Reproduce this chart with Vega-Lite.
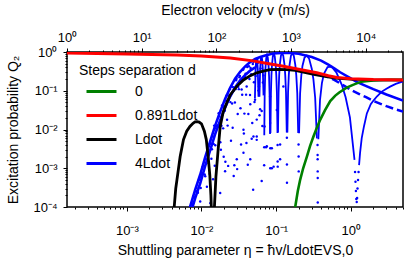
{
"$schema":"https://vega.github.io/schema/vega-lite/v6.json",
"width":336,"height":155,"autosize":"none",
"padding":{"left":67,"top":52,"right":12,"bottom":53},
"config":{"font":"Liberation Sans","view":{"stroke":"black","strokeWidth":1.5},
"axis":{"grid":false,"domain":false,"tickColor":"black","labelColor":"black","titleColor":"black","labelFontSize":13,"titleFontSize":14,"titleFontWeight":"normal","labelFlush":false,"labelOverlap":false,"tickWidth":1,
"tickSize":{"condition":{"test":"abs(log(datum.value)/LN10 - round(log(datum.value)/LN10)) < 0.001","value":4},"value":2},
"labelExpr":"abs(log(datum.value)/LN10 - round(log(datum.value)/LN10)) < 0.001 ? '10' + replace(replace(replace(replace(replace(replace(toString(round(log(datum.value)/LN10)), '-', '⁻'), '0', '⁰'), '1', '¹'), '2', '²'), '3', '³'), '4', '⁴') : ''"}},
"datasets":{
"vel":[{"v":1},{"v":31600}],
"dots":[
{"eta":0.00741,"Q":1.26e-4},{"eta":0.00794,"Q":1.78e-4},{"eta":0.00851,"Q":3.2e-4},{"eta":0.00881,"Q":2.6e-4},{"eta":0.00944,"Q":5.1e-4},{"eta":0.00977,"Q":3.1e-4},{"eta":0.01012,"Q":6.9e-4},{"eta":0.01084,"Q":1.45e-3},{"eta":0.01122,"Q":6.2e-4},{"eta":0.01161,"Q":1.35e-3},{"eta":0.01245,"Q":3.8e-3},{"eta":0.01288,"Q":7.1e-4},{"eta":0.01334,"Q":4.3e-3},{"eta":0.0138,"Q":3.1e-3},{"eta":0.01429,"Q":5.2e-4},{"eta":0.01479,"Q":0.0126},{"eta":0.01531,"Q":3.9e-3},{"eta":0.01585,"Q":0.0123},{"eta":0.01698,"Q":0.0263},{"eta":0.01758,"Q":0.0115},{"eta":0.0182,"Q":3.0e-3},{"eta":0.01884,"Q":0.0417},{"eta":0.0195,"Q":0.0107},{"eta":0.02018,"Q":0.038},{"eta":0.02089,"Q":1.48e-3},{"eta":0.02163,"Q":0.0741},{"eta":0.02239,"Q":0.0126},{"eta":0.02317,"Q":0.0575},{"eta":0.02399,"Q":0.11},{"eta":0.02483,"Q":5.1e-3},{"eta":0.0257,"Q":0.0468},{"eta":0.02661,"Q":0.123},{"eta":0.02754,"Q":1.19e-3},{"eta":0.02851,"Q":0.11},{"eta":0.02951,"Q":0.204},{"eta":0.03055,"Q":0.0251},{"eta":0.03162,"Q":0.11},{"eta":0.03273,"Q":0.24},{"eta":0.03388,"Q":4.1e-3},{"eta":0.03508,"Q":0.0787},{"eta":0.03631,"Q":0.355},{"eta":0.03758,"Q":0.0257},{"eta":0.0389,"Q":0.275},{"eta":0.04027,"Q":0.129},{"eta":0.04169,"Q":1.23e-3},{"eta":0.04315,"Q":0.427},{"eta":0.04467,"Q":0.0776},{"eta":0.04624,"Q":0.266},{"eta":0.04786,"Q":0.0148},{"eta":0.04955,"Q":0.562},{"eta":0.05129,"Q":0.0513},{"eta":0.05309,"Q":0.24},{"eta":0.05495,"Q":5.4e-3},{"eta":0.05689,"Q":0.525},{"eta":0.05888,"Q":0.129},{"eta":0.06095,"Q":0.0335},{"eta":0.0631,"Q":0.661},{"eta":0.06531,"Q":0.0123},{"eta":0.06761,"Q":0.249},
{"eta":0.00754,"Q":1.12e-4},{"eta":0.0078,"Q":1.9e-4},{"eta":0.00837,"Q":2.54e-4},{"eta":0.00896,"Q":2.32e-4},{"eta":0.00928,"Q":5.1e-4},{"eta":0.00961,"Q":1.38e-4},{"eta":0.00994,"Q":5.75e-4},{"eta":0.0103,"Q":1.07e-3},{"eta":0.01103,"Q":6.9e-4},{"eta":0.01142,"Q":1.72e-3},{"eta":0.01182,"Q":3.35e-4},{"eta":0.01224,"Q":1.84e-3},{"eta":0.01266,"Q":3.76e-3},{"eta":0.01311,"Q":1.26e-4},{"eta":0.01357,"Q":1.76e-3},{"eta":0.01405,"Q":6.68e-3},{"eta":0.01454,"Q":4.2e-3},{"eta":0.01505,"Q":1.16e-3},{"eta":0.01558,"Q":0.0107},{"eta":0.01669,"Q":0.0129},{"eta":0.01727,"Q":0.0219},{"eta":0.01788,"Q":4.7e-3},{"eta":0.01851,"Q":0.01245},{"eta":0.01916,"Q":0.0403},{"eta":0.01983,"Q":1.97e-3},{"eta":0.02053,"Q":0.0305},{"eta":0.02125,"Q":0.0556},{"eta":0.022,"Q":0.0178},{"eta":0.02277,"Q":1.15e-3},{"eta":0.02358,"Q":0.0767},{"eta":0.0244,"Q":0.0509},{"eta":0.02526,"Q":0.129},{"eta":0.02615,"Q":0.0111},{"eta":0.02707,"Q":0.1018},{"eta":0.02802,"Q":0.0498},{"eta":0.02901,"Q":0.186},{"eta":0.03003,"Q":9.5e-4},{"eta":0.03108,"Q":0.126},{"eta":0.03217,"Q":0.224},{"eta":0.0333,"Q":0.0353},{"eta":0.03447,"Q":0.1073},{"eta":0.03568,"Q":0.349},{"eta":0.03694,"Q":7.85e-3},{"eta":0.03823,"Q":0.2265},{"eta":0.03958,"Q":0.0794},{"eta":0.04097,"Q":0.412},{"eta":0.04241,"Q":0.0251},{"eta":0.0439,"Q":0.2018},{"eta":0.04544,"Q":0.387},{"eta":0.04704,"Q":5.79e-3},{"eta":0.04869,"Q":0.49},{"eta":0.0504,"Q":0.166},{"eta":0.05217,"Q":0.0585},{"eta":0.054,"Q":0.4266},{"eta":0.05589,"Q":0.632},{"eta":0.05786,"Q":0.1008},{"eta":0.05989,"Q":0.0232},{"eta":0.062,"Q":0.376},{"eta":0.06417,"Q":0.582},{"eta":0.06643,"Q":0.163},
{"eta":0.0925,"Q":1.1e-3},{"eta":0.075,"Q":3.7e-3},{"eta":0.113,"Q":4.1e-3},{"eta":0.113,"Q":1.7e-3},{"eta":0.027,"Q":6.3e-4},{"eta":0.0207,"Q":8.4e-4},{"eta":0.0178,"Q":2.3e-4},{"eta":0.0297,"Q":1.7e-3},{"eta":0.0365,"Q":2.5e-3},{"eta":0.0497,"Q":6.6e-3},{"eta":0.0365,"Q":9.9e-3},{"eta":0.055,"Q":0.018},{"eta":0.083,"Q":0.0147},{"eta":0.102,"Q":0.032},{"eta":0.083,"Q":0.071},{"eta":0.125,"Q":0.128},{"eta":0.064,"Q":0.03},{"eta":0.07,"Q":0.012},{"eta":0.045,"Q":0.045},{"eta":0.04,"Q":4.5e-3},
{"eta":0.3585,"Q":0.004},{"eta":0.359,"Q":0.0022},{"eta":0.3595,"Q":0.0017},{"eta":0.36,"Q":8.3e-4},{"eta":0.3605,"Q":5.6e-4},{"eta":0.361,"Q":1.3e-4},{"eta":0.1995,"Q":0.0041},{"eta":0.2,"Q":0.002},{"eta":0.2005,"Q":8.3e-4},{"eta":0.1392,"Q":0.0061},{"eta":0.1394,"Q":0.00125},{"eta":0.1396,"Q":4.2e-4},{"eta":0.1045,"Q":0.004},{"eta":0.1047,"Q":0.0015},{"eta":0.1049,"Q":0.0011},{"eta":0.0835,"Q":0.0033},{"eta":0.0833,"Q":0.001},{"eta":0.0692,"Q":0.0035},{"eta":0.0691,"Q":0.0012},{"eta":0.0492,"Q":2.8e-4},{"eta":0.064,"Q":4.7e-4},{"eta":0.055,"Q":6.6e-3},{"eta":0.0733,"Q":3.5e-3},{"eta":0.0876,"Q":3.3e-3},{"eta":0.045,"Q":1.7e-3},{"eta":0.0876,"Q":1e-3},
{"eta":1.14,"Q":8e-4},{"eta":1.155,"Q":4.5e-4},{"eta":1.17,"Q":2.6e-4},{"eta":1.185,"Q":1.6e-4},{"eta":1.2,"Q":1.35e-4},{"eta":1.215,"Q":1.7e-4},{"eta":1.23,"Q":3e-4},{"eta":1.25,"Q":5e-4},{"eta":1.27,"Q":8e-4}
],
"curves":[
{"eta":0.17,"Q":3e-5,"d":"0","seg":"g","kind":"main"},{"eta":0.18,"Q":1e-4,"d":"0","seg":"g","kind":"main"},{"eta":0.195,"Q":2.6e-4,"d":"0","seg":"g","kind":"main"},{"eta":0.21,"Q":5.1e-4,"d":"0","seg":"g","kind":"main"},{"eta":0.23,"Q":1e-3,"d":"0","seg":"g","kind":"main"},{"eta":0.258,"Q":0.002,"d":"0","seg":"g","kind":"main"},{"eta":0.285,"Q":0.0038,"d":"0","seg":"g","kind":"main"},{"eta":0.316,"Q":0.0066,"d":"0","seg":"g","kind":"main"},{"eta":0.35,"Q":0.011,"d":"0","seg":"g","kind":"main"},{"eta":0.39,"Q":0.018,"d":"0","seg":"g","kind":"main"},{"eta":0.45,"Q":0.031,"d":"0","seg":"g","kind":"main"},{"eta":0.53,"Q":0.054,"d":"0","seg":"g","kind":"main"},{"eta":0.62,"Q":0.075,"d":"0","seg":"g","kind":"main"},{"eta":0.7,"Q":0.09,"d":"0","seg":"g","kind":"main"},{"eta":0.88,"Q":0.12,"d":"0","seg":"g","kind":"main"},{"eta":1.05,"Q":0.14,"d":"0","seg":"g","kind":"main"},{"eta":1.2,"Q":0.155,"d":"0","seg":"g","kind":"main"},{"eta":1.47,"Q":0.175,"d":"0","seg":"g","kind":"main"},{"eta":2.0,"Q":0.185,"d":"0","seg":"g","kind":"main"},{"eta":2.73,"Q":0.19,"d":"0","seg":"g","kind":"main"},{"eta":3.5,"Q":0.192,"d":"0","seg":"g","kind":"main"},{"eta":5.0,"Q":0.193,"d":"0","seg":"g","kind":"main"},
{"eta":0.000158,"Q":0.94,"d":"0.891Ldot","seg":"r","kind":"main"},{"eta":0.001,"Q":0.89,"d":"0.891Ldot","seg":"r","kind":"main"},{"eta":0.0047,"Q":0.84,"d":"0.891Ldot","seg":"r","kind":"main"},{"eta":0.01,"Q":0.79,"d":"0.891Ldot","seg":"r","kind":"main"},{"eta":0.0243,"Q":0.7,"d":"0.891Ldot","seg":"r","kind":"main"},{"eta":0.049,"Q":0.59,"d":"0.891Ldot","seg":"r","kind":"main"},{"eta":0.08,"Q":0.5,"d":"0.891Ldot","seg":"r","kind":"main"},{"eta":0.125,"Q":0.43,"d":"0.891Ldot","seg":"r","kind":"main"},{"eta":0.2,"Q":0.36,"d":"0.891Ldot","seg":"r","kind":"main"},{"eta":0.35,"Q":0.29,"d":"0.891Ldot","seg":"r","kind":"main"},{"eta":0.5,"Q":0.245,"d":"0.891Ldot","seg":"r","kind":"main"},{"eta":0.65,"Q":0.22,"d":"0.891Ldot","seg":"r","kind":"main"},{"eta":1.0,"Q":0.205,"d":"0.891Ldot","seg":"r","kind":"main"},{"eta":2.0,"Q":0.195,"d":"0.891Ldot","seg":"r","kind":"main"},{"eta":5.0,"Q":0.19,"d":"0.891Ldot","seg":"r","kind":"main"},
{"eta":0.00422,"Q":3e-5,"d":"Ldot","seg":"k1","kind":"main"},{"eta":0.00431,"Q":1e-4,"d":"Ldot","seg":"k1","kind":"main"},{"eta":0.00452,"Q":3e-4,"d":"Ldot","seg":"k1","kind":"main"},{"eta":0.00469,"Q":5e-4,"d":"Ldot","seg":"k1","kind":"main"},{"eta":0.00518,"Q":2e-3,"d":"Ldot","seg":"k1","kind":"main"},{"eta":0.00574,"Q":5.5e-3,"d":"Ldot","seg":"k1","kind":"main"},{"eta":0.00634,"Q":9e-3,"d":"Ldot","seg":"k1","kind":"main"},{"eta":0.007,"Q":0.012,"d":"Ldot","seg":"k1","kind":"main"},{"eta":0.0077,"Q":0.0145,"d":"Ldot","seg":"k1","kind":"main"},{"eta":0.0082,"Q":0.0157,"d":"Ldot","seg":"k1","kind":"main"},{"eta":0.00873,"Q":0.016,"d":"Ldot","seg":"k1","kind":"main"},{"eta":0.0093,"Q":0.0155,"d":"Ldot","seg":"k1","kind":"main"},{"eta":0.01,"Q":0.014,"d":"Ldot","seg":"k1","kind":"main"},{"eta":0.01093,"Q":0.009,"d":"Ldot","seg":"k1","kind":"main"},{"eta":0.0116,"Q":0.0055,"d":"Ldot","seg":"k1","kind":"main"},{"eta":0.01228,"Q":0.002,"d":"Ldot","seg":"k1","kind":"main"},{"eta":0.0129,"Q":7e-4,"d":"Ldot","seg":"k1","kind":"main"},{"eta":0.01337,"Q":2e-4,"d":"Ldot","seg":"k1","kind":"main"},{"eta":0.0137,"Q":5e-5,"d":"Ldot","seg":"k1","kind":"main"},
{"eta":0.0145,"Q":3e-5,"d":"Ldot","seg":"k2","kind":"main"},{"eta":0.0149,"Q":1e-4,"d":"Ldot","seg":"k2","kind":"main"},{"eta":0.0156,"Q":6e-4,"d":"Ldot","seg":"k2","kind":"main"},{"eta":0.0167,"Q":0.003,"d":"Ldot","seg":"k2","kind":"main"},{"eta":0.0178,"Q":0.012,"d":"Ldot","seg":"k2","kind":"main"},{"eta":0.0195,"Q":0.028,"d":"Ldot","seg":"k2","kind":"main"},{"eta":0.0219,"Q":0.05,"d":"Ldot","seg":"k2","kind":"main"},{"eta":0.0245,"Q":0.08,"d":"Ldot","seg":"k2","kind":"main"},{"eta":0.0297,"Q":0.13,"d":"Ldot","seg":"k2","kind":"main"},{"eta":0.0365,"Q":0.19,"d":"Ldot","seg":"k2","kind":"main"},{"eta":0.045,"Q":0.245,"d":"Ldot","seg":"k2","kind":"main"},{"eta":0.055,"Q":0.29,"d":"Ldot","seg":"k2","kind":"main"},{"eta":0.067,"Q":0.32,"d":"Ldot","seg":"k2","kind":"main"},{"eta":0.083,"Q":0.35,"d":"Ldot","seg":"k2","kind":"main"},{"eta":0.106,"Q":0.358,"d":"Ldot","seg":"k2","kind":"main"},{"eta":0.139,"Q":0.35,"d":"Ldot","seg":"k2","kind":"main"},{"eta":0.18,"Q":0.335,"d":"Ldot","seg":"k2","kind":"main"},{"eta":0.258,"Q":0.29,"d":"Ldot","seg":"k2","kind":"main"},{"eta":0.333,"Q":0.26,"d":"Ldot","seg":"k2","kind":"main"},{"eta":0.45,"Q":0.235,"d":"Ldot","seg":"k2","kind":"main"},{"eta":0.62,"Q":0.213,"d":"Ldot","seg":"k2","kind":"main"},{"eta":1.0,"Q":0.2,"d":"Ldot","seg":"k2","kind":"main"},{"eta":2.0,"Q":0.19,"d":"Ldot","seg":"k2","kind":"main"},{"eta":5.0,"Q":0.188,"d":"Ldot","seg":"k2","kind":"main"},
{"eta":0.0065,"Q":3e-5,"d":"4Ldot","seg":"env","kind":"main"},{"eta":0.00706,"Q":1.04e-4,"d":"4Ldot","seg":"env","kind":"main"},{"eta":0.00824,"Q":2.8e-4,"d":"4Ldot","seg":"env","kind":"main"},{"eta":0.00962,"Q":6.9e-4,"d":"4Ldot","seg":"env","kind":"main"},{"eta":0.01119,"Q":1.9e-3,"d":"4Ldot","seg":"env","kind":"main"},{"eta":0.01306,"Q":4.9e-3,"d":"4Ldot","seg":"env","kind":"main"},{"eta":0.01524,"Q":0.0126,"d":"4Ldot","seg":"env","kind":"main"},{"eta":0.01778,"Q":0.0288,"d":"4Ldot","seg":"env","kind":"main"},{"eta":0.02075,"Q":0.0617,"d":"4Ldot","seg":"env","kind":"main"},{"eta":0.02421,"Q":0.119,"d":"4Ldot","seg":"env","kind":"main"},{"eta":0.02818,"Q":0.204,"d":"4Ldot","seg":"env","kind":"main"},{"eta":0.03296,"Q":0.309,"d":"4Ldot","seg":"env","kind":"main"},{"eta":0.03846,"Q":0.427,"d":"4Ldot","seg":"env","kind":"main"},{"eta":0.04487,"Q":0.55,"d":"4Ldot","seg":"env","kind":"main"},{"eta":0.05236,"Q":0.661,"d":"4Ldot","seg":"env","kind":"main"},{"eta":0.0611,"Q":0.741,"d":"4Ldot","seg":"env","kind":"main"},{"eta":0.0713,"Q":0.813,"d":"4Ldot","seg":"env","kind":"main"},{"eta":0.0912,"Q":0.912,"d":"4Ldot","seg":"env","kind":"main"},{"eta":0.12,"Q":0.94,"d":"4Ldot","seg":"env","kind":"main"},{"eta":0.154,"Q":0.945,"d":"4Ldot","seg":"env","kind":"main"},{"eta":0.2,"Q":0.9,"d":"4Ldot","seg":"env","kind":"main"},{"eta":0.3,"Q":0.74,"d":"4Ldot","seg":"env","kind":"main"},{"eta":0.4,"Q":0.6,"d":"4Ldot","seg":"env","kind":"main"},{"eta":0.5,"Q":0.47,"d":"4Ldot","seg":"env","kind":"main"},{"eta":0.6,"Q":0.38,"d":"4Ldot","seg":"env","kind":"main"},{"eta":0.72,"Q":0.3,"d":"4Ldot","seg":"env","kind":"main"},{"eta":1.0,"Q":0.21,"d":"4Ldot","seg":"env","kind":"main"},{"eta":1.2,"Q":0.17,"d":"4Ldot","seg":"env","kind":"main"},{"eta":1.5,"Q":0.14,"d":"4Ldot","seg":"env","kind":"main"},{"eta":2.0,"Q":0.11,"d":"4Ldot","seg":"env","kind":"main"},{"eta":3.0,"Q":0.08,"d":"4Ldot","seg":"env","kind":"main"},{"eta":5.0,"Q":0.056,"d":"4Ldot","seg":"env","kind":"main"},
{"eta":0.00706,"Q":6.2e-5,"d":"4Ldot","seg":"band","kind":"main"},{"eta":0.00824,"Q":1.7e-4,"d":"4Ldot","seg":"band","kind":"main"},{"eta":0.00962,"Q":4.1e-4,"d":"4Ldot","seg":"band","kind":"main"},{"eta":0.01119,"Q":1.14e-3,"d":"4Ldot","seg":"band","kind":"main"},{"eta":0.01306,"Q":2.9e-3,"d":"4Ldot","seg":"band","kind":"main"},{"eta":0.01524,"Q":7.6e-3,"d":"4Ldot","seg":"band","kind":"main"},{"eta":0.01778,"Q":0.0173,"d":"4Ldot","seg":"band","kind":"main"},{"eta":0.02075,"Q":0.037,"d":"4Ldot","seg":"band","kind":"main"},{"eta":0.02421,"Q":0.071,"d":"4Ldot","seg":"band","kind":"main"},{"eta":0.02818,"Q":0.122,"d":"4Ldot","seg":"band","kind":"main"},{"eta":0.03296,"Q":0.185,"d":"4Ldot","seg":"band","kind":"main"},{"eta":0.03846,"Q":0.256,"d":"4Ldot","seg":"band","kind":"main"},{"eta":0.04487,"Q":0.33,"d":"4Ldot","seg":"band","kind":"main"},{"eta":0.05236,"Q":0.4,"d":"4Ldot","seg":"band","kind":"main"},
{"eta":0.4,"Q":0.27,"d":"4Ldot","seg":"dash","kind":"dash"},{"eta":0.5,"Q":0.225,"d":"4Ldot","seg":"dash","kind":"dash"},{"eta":0.6,"Q":0.19,"d":"4Ldot","seg":"dash","kind":"dash"},{"eta":0.7,"Q":0.16,"d":"4Ldot","seg":"dash","kind":"dash"},{"eta":0.85,"Q":0.128,"d":"4Ldot","seg":"dash","kind":"dash"},{"eta":1.0,"Q":0.105,"d":"4Ldot","seg":"dash","kind":"dash"},{"eta":1.3,"Q":0.082,"d":"4Ldot","seg":"dash","kind":"dash"},{"eta":1.6,"Q":0.068,"d":"4Ldot","seg":"dash","kind":"dash"},{"eta":2.0,"Q":0.055,"d":"4Ldot","seg":"dash","kind":"dash"},{"eta":2.5,"Q":0.046,"d":"4Ldot","seg":"dash","kind":"dash"},{"eta":3.0,"Q":0.04,"d":"4Ldot","seg":"dash","kind":"dash"},{"eta":4.0,"Q":0.033,"d":"4Ldot","seg":"dash","kind":"dash"},{"eta":5.0,"Q":0.029,"d":"4Ldot","seg":"dash","kind":"dash"},
{"eta":0.3674,"Q":0.0056,"d":"4Ldot","seg":"A","kind":"arch"},{"eta":0.3869,"Q":0.0583,"d":"4Ldot","seg":"A","kind":"arch"},{"eta":0.41,"Q":0.158,"d":"4Ldot","seg":"A","kind":"arch"},{"eta":0.4361,"Q":0.275,"d":"4Ldot","seg":"A","kind":"arch"},{"eta":0.4878,"Q":0.41,"d":"4Ldot","seg":"A","kind":"arch"},{"eta":0.5536,"Q":0.42,"d":"4Ldot","seg":"A","kind":"arch"},{"eta":0.6398,"Q":0.299,"d":"4Ldot","seg":"A","kind":"arch"},{"eta":0.7576,"Q":0.1425,"d":"4Ldot","seg":"A","kind":"arch"},{"eta":0.8518,"Q":0.068,"d":"4Ldot","seg":"A","kind":"arch"},{"eta":0.9728,"Q":0.0205,"d":"4Ldot","seg":"A","kind":"arch"},{"eta":1.121,"Q":0.00165,"d":"4Ldot","seg":"A","kind":"arch"},
{"eta":0.2027,"Q":0.008,"d":"4Ldot","seg":"B","kind":"arch"},{"eta":0.2093,"Q":0.085,"d":"4Ldot","seg":"B","kind":"arch"},{"eta":0.2169,"Q":0.24,"d":"4Ldot","seg":"B","kind":"arch"},{"eta":0.225,"Q":0.435,"d":"4Ldot","seg":"B","kind":"arch"},{"eta":0.24,"Q":0.717,"d":"4Ldot","seg":"B","kind":"arch"},{"eta":0.2571,"Q":0.81,"d":"4Ldot","seg":"B","kind":"arch"},{"eta":0.2768,"Q":0.666,"d":"4Ldot","seg":"B","kind":"arch"},{"eta":0.2999,"Q":0.37,"d":"4Ldot","seg":"B","kind":"arch"},{"eta":0.3156,"Q":0.197,"d":"4Ldot","seg":"B","kind":"arch"},{"eta":0.3331,"Q":0.066,"d":"4Ldot","seg":"B","kind":"arch"},{"eta":0.3513,"Q":0.0059,"d":"4Ldot","seg":"B","kind":"arch"},
{"eta":0.1413,"Q":0.0084,"d":"4Ldot","seg":"C","kind":"arch"},{"eta":0.1444,"Q":0.0902,"d":"4Ldot","seg":"C","kind":"arch"},{"eta":0.1478,"Q":0.258,"d":"4Ldot","seg":"C","kind":"arch"},{"eta":0.1514,"Q":0.4725,"d":"4Ldot","seg":"C","kind":"arch"},{"eta":0.1578,"Q":0.803,"d":"4Ldot","seg":"C","kind":"arch"},{"eta":0.1647,"Q":0.935,"d":"4Ldot","seg":"C","kind":"arch"},{"eta":0.1723,"Q":0.794,"d":"4Ldot","seg":"C","kind":"arch"},{"eta":0.1807,"Q":0.46,"d":"4Ldot","seg":"C","kind":"arch"},{"eta":0.1861,"Q":0.25,"d":"4Ldot","seg":"C","kind":"arch"},{"eta":0.1918,"Q":0.0869,"d":"4Ldot","seg":"C","kind":"arch"},{"eta":0.1975,"Q":0.0081,"d":"4Ldot","seg":"C","kind":"arch"},
{"eta":0.1058,"Q":0.0084,"d":"4Ldot","seg":"D","kind":"arch"},{"eta":0.1077,"Q":0.0898,"d":"4Ldot","seg":"D","kind":"arch"},{"eta":0.1098,"Q":0.257,"d":"4Ldot","seg":"D","kind":"arch"},{"eta":0.112,"Q":0.47,"d":"4Ldot","seg":"D","kind":"arch"},{"eta":0.1159,"Q":0.803,"d":"4Ldot","seg":"D","kind":"arch"},{"eta":0.12,"Q":0.94,"d":"4Ldot","seg":"D","kind":"arch"},{"eta":0.1245,"Q":0.803,"d":"4Ldot","seg":"D","kind":"arch"},{"eta":0.1293,"Q":0.47,"d":"4Ldot","seg":"D","kind":"arch"},{"eta":0.1323,"Q":0.257,"d":"4Ldot","seg":"D","kind":"arch"},{"eta":0.1355,"Q":0.0898,"d":"4Ldot","seg":"D","kind":"arch"},{"eta":0.1387,"Q":0.0084,"d":"4Ldot","seg":"D","kind":"arch"},
{"eta":0.08385,"Q":0.0081,"d":"4Ldot","seg":"E","kind":"arch"},{"eta":0.08509,"Q":0.0869,"d":"4Ldot","seg":"E","kind":"arch"},{"eta":0.08646,"Q":0.248,"d":"4Ldot","seg":"E","kind":"arch"},{"eta":0.08787,"Q":0.455,"d":"4Ldot","seg":"E","kind":"arch"},{"eta":0.09033,"Q":0.777,"d":"4Ldot","seg":"E","kind":"arch"},{"eta":0.09294,"Q":0.91,"d":"4Ldot","seg":"E","kind":"arch"},{"eta":0.09569,"Q":0.777,"d":"4Ldot","seg":"E","kind":"arch"},{"eta":0.09862,"Q":0.455,"d":"4Ldot","seg":"E","kind":"arch"},{"eta":0.10046,"Q":0.248,"d":"4Ldot","seg":"E","kind":"arch"},{"eta":0.10238,"Q":0.0869,"d":"4Ldot","seg":"E","kind":"arch"},{"eta":0.10423,"Q":0.0081,"d":"4Ldot","seg":"E","kind":"arch"},
{"eta":0.06932,"Q":0.0071,"d":"4Ldot","seg":"F","kind":"arch"},{"eta":0.07018,"Q":0.077,"d":"4Ldot","seg":"F","kind":"arch"},{"eta":0.07111,"Q":0.222,"d":"4Ldot","seg":"F","kind":"arch"},{"eta":0.07207,"Q":0.408,"d":"4Ldot","seg":"F","kind":"arch"},{"eta":0.07373,"Q":0.705,"d":"4Ldot","seg":"F","kind":"arch"},{"eta":0.07547,"Q":0.83,"d":"4Ldot","seg":"F","kind":"arch"},{"eta":0.07729,"Q":0.715,"d":"4Ldot","seg":"F","kind":"arch"},{"eta":0.07921,"Q":0.42,"d":"4Ldot","seg":"F","kind":"arch"},{"eta":0.0804,"Q":0.23,"d":"4Ldot","seg":"F","kind":"arch"},{"eta":0.08163,"Q":0.082,"d":"4Ldot","seg":"F","kind":"arch"},{"eta":0.08282,"Q":0.0077,"d":"4Ldot","seg":"F","kind":"arch"},
{"eta":0.0597,"Q":0.0702,"d":"4Ldot","seg":"G","kind":"arch"},{"eta":0.06107,"Q":0.371,"d":"4Ldot","seg":"G","kind":"arch"},{"eta":0.06226,"Q":0.64,"d":"4Ldot","seg":"G","kind":"arch"},{"eta":0.06349,"Q":0.76,"d":"4Ldot","seg":"G","kind":"arch"},{"eta":0.06478,"Q":0.658,"d":"4Ldot","seg":"G","kind":"arch"},{"eta":0.06612,"Q":0.39,"d":"4Ldot","seg":"G","kind":"arch"},{"eta":0.0678,"Q":0.0759,"d":"4Ldot","seg":"G","kind":"arch"},
{"eta":0.05195,"Q":0.063,"d":"4Ldot","seg":"H","kind":"arch"},{"eta":0.05298,"Q":0.3375,"d":"4Ldot","seg":"H","kind":"arch"},{"eta":0.05387,"Q":0.59,"d":"4Ldot","seg":"H","kind":"arch"},{"eta":0.05479,"Q":0.7,"d":"4Ldot","seg":"H","kind":"arch"},{"eta":0.05575,"Q":0.606,"d":"4Ldot","seg":"H","kind":"arch"},{"eta":0.05674,"Q":0.36,"d":"4Ldot","seg":"H","kind":"arch"},{"eta":0.05797,"Q":0.0697,"d":"4Ldot","seg":"H","kind":"arch"},
{"eta":1.29,"Q":0.0012,"d":"4Ldot","seg":"R","kind":"arch"},{"eta":1.33,"Q":0.0025,"d":"4Ldot","seg":"R","kind":"arch"},{"eta":1.4,"Q":0.006,"d":"4Ldot","seg":"R","kind":"arch"},{"eta":1.5,"Q":0.012,"d":"4Ldot","seg":"R","kind":"arch"},{"eta":1.64,"Q":0.026,"d":"4Ldot","seg":"R","kind":"arch"},{"eta":1.85,"Q":0.045,"d":"4Ldot","seg":"R","kind":"arch"},{"eta":2.0,"Q":0.055,"d":"4Ldot","seg":"R","kind":"arch"},{"eta":2.23,"Q":0.071,"d":"4Ldot","seg":"R","kind":"arch"},{"eta":2.6,"Q":0.095,"d":"4Ldot","seg":"R","kind":"arch"},{"eta":3.0,"Q":0.113,"d":"4Ldot","seg":"R","kind":"arch"},{"eta":3.36,"Q":0.128,"d":"4Ldot","seg":"R","kind":"arch"},{"eta":4.0,"Q":0.15,"d":"4Ldot","seg":"R","kind":"arch"},{"eta":4.8,"Q":0.17,"d":"4Ldot","seg":"R","kind":"arch"},{"eta":5.0,"Q":0.173,"d":"4Ldot","seg":"R","kind":"arch"}
]},
"layer":[
{"encoding":{
"x":{"field":"eta","type":"quantitative","scale":{"type":"log","domain":[0.000158,5],"nice":false},
"axis":{"orient":"bottom","title":"Shuttling parameter η = ħv/LdotEVS,0","titleY":36,"titleBaseline":"top","labelPadding":13,
"values":[0.0002,0.0003,0.0004,0.0005,0.0006,0.0007,0.0008,0.0009,0.001,0.002,0.003,0.004,0.005,0.006,0.007,0.008,0.009,0.01,0.02,0.03,0.04,0.05,0.06,0.07,0.08,0.09,0.1,0.2,0.3,0.4,0.5,0.6,0.7,0.8,0.9,1,2,3,4,5]}},
"y":{"field":"Q","type":"quantitative","scale":{"type":"log","domain":[0.0001,1],"nice":false},
"axis":{"orient":"left","title":"Excitation probability Q₂","titleX":-47,"titleY":77.5,"labelPadding":6,
"values":[0.0001,0.0002,0.0003,0.0004,0.0005,0.0006,0.0007,0.0008,0.0009,0.001,0.002,0.003,0.004,0.005,0.006,0.007,0.008,0.009,0.01,0.02,0.03,0.04,0.05,0.06,0.07,0.08,0.09,0.1,0.2,0.3,0.4,0.5,0.6,0.7,0.8,0.9,1]}},
"color":{"field":"d","type":"nominal","title":"Steps separation d",
"scale":{"domain":["0","0.891Ldot","Ldot","4Ldot"],"range":["#008000","#ff0000","#000000","#0000ff"]},
"legend":{"orient":"top-left","offset":12,"padding":0,"titleFontSize":14,"titleFontWeight":"normal","titleColor":"black","labelFontSize":14,"labelColor":"black","symbolType":"stroke","symbolStrokeWidth":3,"symbolSize":900,"symbolOffset":6,"rowPadding":-9,"labelOffset":17,"titlePadding":-3,"labelLimit":200}}},
"layer":[
{"data":{"name":"dots"},"mark":{"type":"point","filled":true,"size":6,"opacity":1,"clip":true},"encoding":{"color":{"value":"#0000ff"}}},
{"data":{"name":"curves"},"transform":[{"filter":"datum.kind === 'arch'"}],"mark":{"type":"line","strokeWidth":1.8,"clip":true},"encoding":{"detail":{"field":"seg"}}},
{"data":{"name":"curves"},"transform":[{"filter":"datum.kind === 'dash'"}],"mark":{"type":"line","strokeWidth":2.5,"strokeDash":[8,4],"clip":true},"encoding":{"detail":{"field":"seg"}}},
{"data":{"name":"curves"},"transform":[{"filter":"datum.seg === 'env' || datum.seg === 'band'"}],"mark":{"type":"line","strokeWidth":2.6,"clip":true},"encoding":{"detail":{"field":"seg"}}},
{"data":{"name":"curves"},"transform":[{"filter":"datum.seg === 'g'"}],"mark":{"type":"line","strokeWidth":2.6,"clip":true},"encoding":{"detail":{"field":"seg"}}},
{"data":{"name":"curves"},"transform":[{"filter":"datum.seg === 'k1' || datum.seg === 'k2'"}],"mark":{"type":"line","strokeWidth":2.8,"clip":true},"encoding":{"detail":{"field":"seg"}}},
{"data":{"name":"curves"},"transform":[{"filter":"datum.seg === 'r'"}],"mark":{"type":"line","strokeWidth":3,"clip":true},"encoding":{"detail":{"field":"seg"}}}
]},
{"data":{"name":"vel"},"mark":{"type":"point","opacity":0},
"encoding":{"x":{"field":"v","type":"quantitative","scale":{"type":"log","domain":[1,31600],"nice":false},
"axis":{"orient":"top","title":"Electron velocity v (m/s)","titleY":-35,"titleBaseline":"bottom","labelPadding":4,
"values":[1,2,3,4,5,6,7,8,9,10,20,30,40,50,60,70,80,90,100,200,300,400,500,600,700,800,900,1000,2000,3000,4000,5000,6000,7000,8000,9000,10000,20000,30000]}}}}
],
"resolve":{"scale":{"x":"independent"}}
}
